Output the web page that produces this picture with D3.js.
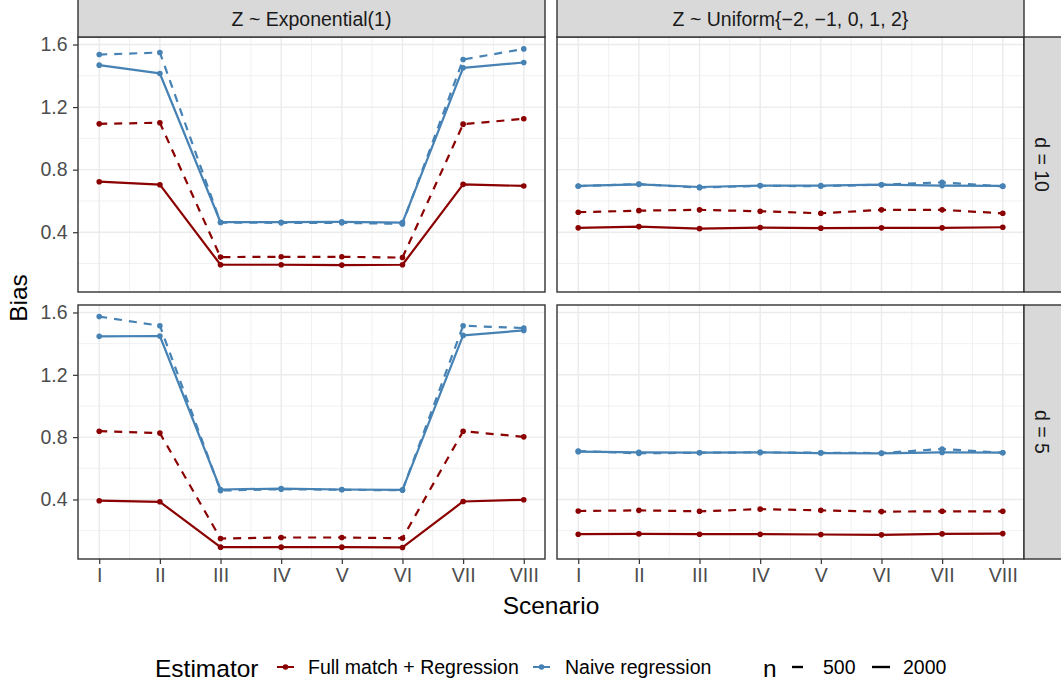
<!DOCTYPE html>
<html>
<head>
<meta charset="utf-8">
<script src="https://cdn.jsdelivr.net/npm/d3@7"></script>
<style>
  body { margin: 0; background: #fff; }
  svg { display: block; font-family: "Liberation Sans", Arial, sans-serif; }
</style>
</head>
<body>
<div id="chart-area"></div>
<script>
const WIDTH = 1061;
const HEIGHT = 684;

// data
const scenarios = ["I", "II", "III", "IV", "V", "VI", "VII", "VIII"];
const colFacets = ["Z ~ Exponential(1)", "Z ~ Uniform{\u22122, \u22121, 0, 1, 2}"];
const rowFacets = ["d = 10", "d = 5"];
const estimators = ["Full match + Regression", "Naive regression"];
const sampleSizes = ["500", "2000"];
const yTicks = [0.4, 0.8, 1.2, 1.6];

// Z ~ Exponential(1), d = 10
const expD10Full500  = [1.093, 1.100, 0.241, 0.243, 0.243, 0.238, 1.091, 1.125];
const expD10Full2000 = [0.723, 0.704, 0.192, 0.192, 0.190, 0.192, 0.706, 0.696];
const expD10Naive500  = [1.536, 1.549, 0.462, 0.460, 0.460, 0.453, 1.504, 1.572];
const expD10Naive2000 = [1.468, 1.415, 0.464, 0.464, 0.466, 0.462, 1.451, 1.485];
// Z ~ Uniform, d = 10
const uniD10Full500  = [0.528, 0.538, 0.543, 0.534, 0.521, 0.543, 0.543, 0.521];
const uniD10Full2000 = [0.428, 0.436, 0.423, 0.430, 0.426, 0.428, 0.428, 0.432];
const uniD10Naive500  = [0.694, 0.708, 0.685, 0.697, 0.694, 0.704, 0.719, 0.693];
const uniD10Naive2000 = [0.696, 0.706, 0.689, 0.698, 0.698, 0.704, 0.698, 0.696];
// Z ~ Exponential(1), d = 5
const expD5Full500  = [0.838, 0.826, 0.149, 0.156, 0.156, 0.151, 0.838, 0.802];
const expD5Full2000 = [0.392, 0.385, 0.094, 0.094, 0.094, 0.092, 0.387, 0.398];
const expD5Naive500  = [1.574, 1.515, 0.457, 0.466, 0.462, 0.459, 1.515, 1.500];
const expD5Naive2000 = [1.447, 1.449, 0.464, 0.470, 0.464, 0.462, 1.453, 1.485];
// Z ~ Uniform, d = 5
const uniD5Full500  = [0.326, 0.330, 0.324, 0.338, 0.330, 0.322, 0.324, 0.324];
const uniD5Full2000 = [0.177, 0.179, 0.177, 0.177, 0.175, 0.173, 0.179, 0.181];
const uniD5Naive500  = [0.711, 0.696, 0.700, 0.702, 0.700, 0.698, 0.724, 0.700];
const uniD5Naive2000 = [0.707, 0.702, 0.700, 0.702, 0.698, 0.696, 0.702, 0.700];

// facets: [row][col] -> series
const facetData = [
  [
    [expD10Full500, expD10Full2000, expD10Naive500, expD10Naive2000],
    [uniD10Full500, uniD10Full2000, uniD10Naive500, uniD10Naive2000]
  ],
  [
    [expD5Full500, expD5Full2000, expD5Naive500, expD5Naive2000],
    [uniD5Full500, uniD5Full2000, uniD5Naive500, uniD5Naive2000]
  ]
];
// order of the four series inside each facet
const seriesKeys = [
  {est: 0, n: 0}, {est: 0, n: 1}, {est: 1, n: 0}, {est: 1, n: 1}
];

const colors = ["#8B0000", "#4682B4"];
const dashes = ["8,7", null];

const svg = d3.select("#chart-area").append("svg")
  .attr("width", WIDTH)
  .attr("height", HEIGHT);

// panel layout
const colX = [[78, 545], [557, 1024]];
const rowY = [[37, 292], [305, 559]];
const stripW = 40;

// shared y scale with ggplot-style 5% expansion
const allVals = facetData.flat(3);
const yMin = d3.min(allVals), yMax = d3.max(allVals);
const yPad = (yMax - yMin) * 0.05;

const smallFont = "19.5px";
const bigFont = "24.5px";

rowY.forEach((ry, r) => {
  colX.forEach((cx, c) => {
    const x = d3.scaleLinear()
      .domain([1 - 0.35, scenarios.length + 0.35])
      .range(cx);
    const y = d3.scaleLinear()
      .domain([yMin - yPad, yMax + yPad])
      .range([ry[1], ry[0]]);

    const g = svg.append("g");

    g.append("rect")
      .attr("x", cx[0]).attr("y", ry[0])
      .attr("width", cx[1] - cx[0]).attr("height", ry[1] - ry[0])
      .attr("fill", "#fff");

    // minor grid
    const xMinor = d3.range(1.5, scenarios.length, 1);
    const yMinor = [0.2, 0.6, 1.0, 1.4];
    g.selectAll(".xminor").data(xMinor).enter().append("line")
      .attr("x1", d => x(d)).attr("x2", d => x(d))
      .attr("y1", ry[0]).attr("y2", ry[1])
      .attr("stroke", "#EBEBEB").attr("stroke-width", 0.7);
    g.selectAll(".yminor").data(yMinor).enter().append("line")
      .attr("x1", cx[0]).attr("x2", cx[1])
      .attr("y1", d => y(d)).attr("y2", d => y(d))
      .attr("stroke", "#EBEBEB").attr("stroke-width", 0.7);

    // major grid
    g.selectAll(".xmajor").data(d3.range(1, scenarios.length + 1)).enter().append("line")
      .attr("x1", d => x(d)).attr("x2", d => x(d))
      .attr("y1", ry[0]).attr("y2", ry[1])
      .attr("stroke", "#EBEBEB").attr("stroke-width", 1.4);
    g.selectAll(".ymajor").data(yTicks).enter().append("line")
      .attr("x1", cx[0]).attr("x2", cx[1])
      .attr("y1", d => y(d)).attr("y2", d => y(d))
      .attr("stroke", "#EBEBEB").attr("stroke-width", 1.4);

    const line = d3.line()
      .x((d, i) => x(i + 1))
      .y(d => y(d));

    const series = facetData[r][c];

    series.forEach((vals, s) => {
      const k = seriesKeys[s];
      g.append("path")
        .datum(vals)
        .attr("d", line)
        .attr("fill", "none")
        .attr("stroke", colors[k.est])
        .attr("stroke-width", 2.2)
        .attr("stroke-dasharray", dashes[k.n])
        .attr("stroke-linejoin", "round");
    });
    series.forEach((vals, s) => {
      const k = seriesKeys[s];
      g.selectAll(null).data(vals).enter().append("circle")
        .attr("cx", (d, i) => x(i + 1))
        .attr("cy", d => y(d))
        .attr("r", 2.8)
        .attr("fill", colors[k.est]);
    });

    // panel border
    g.append("rect")
      .attr("x", cx[0]).attr("y", ry[0])
      .attr("width", cx[1] - cx[0]).attr("height", ry[1] - ry[0])
      .attr("fill", "none").attr("stroke", "#333333").attr("stroke-width", 1.4);

    // y axis on left column
    if (c === 0) {
      const yAxis = d3.axisLeft(y).tickValues(yTicks).tickSize(5).tickPadding(5.5)
        .tickFormat(d3.format(".1f"));
      const ya = g.append("g")
        .attr("transform", `translate(${cx[0]},0)`)
        .call(yAxis);
      ya.select(".domain").remove();
      ya.selectAll("line").attr("stroke", "#333333").attr("stroke-width", 1.2);
      ya.selectAll("text").attr("fill", "#4D4D4D").style("font-size", smallFont)
        .style("font-family", "'Liberation Sans', Arial, sans-serif");
    }
    // x axis on bottom row
    if (r === rowY.length - 1) {
      const xAxis = d3.axisBottom(x).tickValues(d3.range(1, scenarios.length + 1))
        .tickSize(5).tickPadding(4)
        .tickFormat(d => scenarios[d - 1]);
      const xa = g.append("g")
        .attr("transform", `translate(0,${ry[1]})`)
        .call(xAxis);
      xa.select(".domain").remove();
      xa.selectAll("line").attr("stroke", "#333333").attr("stroke-width", 1.2);
      xa.selectAll("text").attr("fill", "#4D4D4D").style("font-size", smallFont)
        .style("font-family", "'Liberation Sans', Arial, sans-serif");
    }

    // top strips
    if (r === 0) {
      g.append("rect")
        .attr("x", cx[0]).attr("y", -4)
        .attr("width", cx[1] - cx[0]).attr("height", ry[0] + 4)
        .attr("fill", "#D9D9D9").attr("stroke", "#333333").attr("stroke-width", 1.4);
      g.append("text")
        .attr("x", (cx[0] + cx[1]) / 2)
        .attr("y", 25.7)
        .attr("text-anchor", "middle")
        .attr("fill", "#1A1A1A")
        .style("font-size", smallFont)
        .text(colFacets[c]);
    }
    // right strips
    if (c === colX.length - 1) {
      g.append("rect")
        .attr("x", cx[1]).attr("y", ry[0])
        .attr("width", stripW).attr("height", ry[1] - ry[0])
        .attr("fill", "#D9D9D9").attr("stroke", "#333333").attr("stroke-width", 1.4);
      g.append("text")
        .attr("transform", `translate(${cx[1] + 18.5},${(ry[0] + ry[1]) / 2}) rotate(90)`)
        .attr("text-anchor", "middle")
        .attr("dy", "0.36em")
        .attr("fill", "#1A1A1A")
        .style("font-size", smallFont)
        .text(rowFacets[r]);
    }
  });
});

// axis titles
svg.append("text")
  .attr("x", (colX[0][0] + colX[1][1]) / 2)
  .attr("y", 614)
  .attr("text-anchor", "middle")
  .style("font-size", bigFont)
  .text("Scenario");

svg.append("text")
  .attr("transform", `translate(18.5,${(rowY[0][0] + rowY[1][1]) / 2}) rotate(-90)`)
  .attr("text-anchor", "middle")
  .attr("dy", "0.36em")
  .style("font-size", bigFont)
  .text("Bias");

// legend
const legY = 667;
const legend = svg.append("g");

legend.append("text")
  .attr("x", 155).attr("y", 676.7)
  .style("font-size", bigFont)
  .text("Estimator");

const estKeyX = [277, 533];
const estLabelX = [308, 565];
estimators.forEach((name, i) => {
  legend.append("line")
    .attr("x1", estKeyX[i]).attr("x2", estKeyX[i] + 17)
    .attr("y1", legY).attr("y2", legY)
    .attr("stroke", colors[i]).attr("stroke-width", 2);
  legend.append("circle")
    .attr("cx", estKeyX[i] + 8.5).attr("cy", legY)
    .attr("r", 2.8).attr("fill", colors[i]);
  legend.append("text")
    .attr("x", estLabelX[i]).attr("y", 674.3)
    .style("font-size", smallFont)
    .text(name);
});

legend.append("text")
  .attr("x", 763).attr("y", 676.7)
  .style("font-size", bigFont)
  .text("n");

const nKeyX = [792, 872];
const nLabelX = [823, 903];
sampleSizes.forEach((name, i) => {
  legend.append("line")
    .attr("x1", nKeyX[i]).attr("x2", nKeyX[i] + 18)
    .attr("y1", legY).attr("y2", legY)
    .attr("stroke", "#000").attr("stroke-width", 2.4)
    .attr("stroke-dasharray", i === 0 ? "11,8" : null);
  legend.append("text")
    .attr("x", nLabelX[i]).attr("y", 674.3)
    .style("font-size", smallFont)
    .text(name);
});
</script>
</body>
</html>
